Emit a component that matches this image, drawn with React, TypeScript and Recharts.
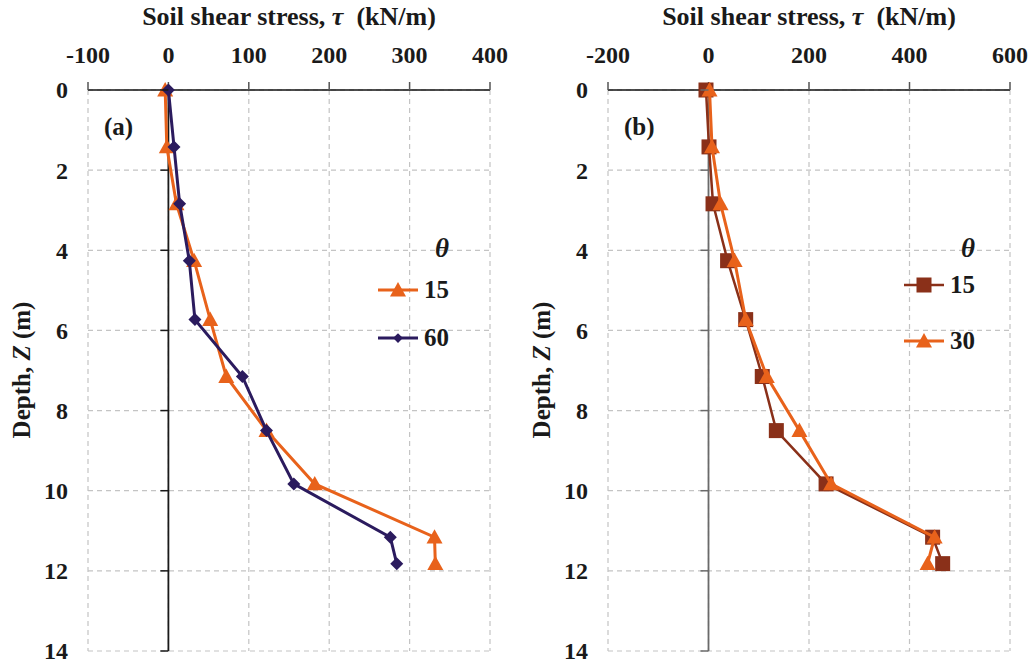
import React from 'react';
import {
  ScatterChart,
  Scatter,
  XAxis,
  YAxis,
  CartesianGrid,
  ReferenceLine,
} from 'recharts';

const FONT = '"Liberation Serif", "Times New Roman", serif';

// depths (m) of the points, same for both panels
const depths = [0, 1.42, 2.84, 4.26, 5.73, 7.15, 8.5, 9.83, 11.16, 11.82];

// panel (a)
const tauA15 = [-4, -2, 10, 32, 52, 72, 122, 182, 331, 332];
const tauA60 = [0, 7, 14, 26, 33, 92, 122, 156, 276, 284];
const xTicksA = [-100, 0, 100, 200, 300, 400];

// panel (b)
const tauB15 = [-5, 1, 9, 38, 74, 107, 135, 234, 446, 466];
const tauB30 = [2, 7, 24, 52, 74, 116, 181, 244, 450, 436];
const xTicksB = [-200, 0, 200, 400, 600];

const yTicks = [0, 2, 4, 6, 8, 10, 12, 14];

const ORANGE = '#E8621B';
const NAVY = '#2B1B5E';
const BROWN = '#8A3019';

const toPoints = (vals: number[]) => vals.map((tau, i) => ({ tau, depth: depths[i] }));

// plot box inside each chart
const M = { top: 90, left: 88, bottom: 15 };
const PLOT_W = 402;

type MarkerKind = 'triangle' | 'diamond' | 'square';

const Marker = ({ cx, cy, kind, color, k = 1 }: { cx: number; cy: number; kind: MarkerKind; color: string; k?: number }) => {
  if (cx == null || cy == null) return null;
  if (kind === 'triangle') {
    const h = 8 * k;
    return <polygon points={`${cx},${cy - h} ${cx - h},${cy + h * 0.8} ${cx + h},${cy + h * 0.8}`} fill={color} />;
  }
  if (kind === 'diamond') {
    const d = 6.5 * k;
    return <polygon points={`${cx},${cy - d} ${cx + d},${cy} ${cx},${cy + d} ${cx - d},${cy}`} fill={color} />;
  }
  const s = 7.5 * k;
  return <rect x={cx - s} y={cy - s} width={2 * s} height={2 * s} fill={color} />;
};

interface Series {
  name: string;
  values: number[];
  color: string;
  kind: MarkerKind;
  width: number;
}

interface PanelProps {
  left: number;
  width: number;
  xTicks: number[];
  series: Series[];
  axisColor: string;
  tag: string;
  legendX: number;
  legendYs: number[];
}

const Panel: React.FC<PanelProps> = ({ left, width, xTicks, series, axisColor, tag, legendX, legendYs }) => {
  const xMin = xTicks[0];
  const xMax = xTicks[xTicks.length - 1];
  const zeroPx = M.left + ((0 - xMin) / (xMax - xMin)) * PLOT_W;

  const XTick = (props: any) => (
    <text x={props.x} y={63} textAnchor="middle" fontFamily={FONT} fontWeight="bold" fontSize={24} fill="#1a1a1a">
      {props.payload.value}
    </text>
  );

  const YTick = (props: any) => (
    <g>
      <text x={M.left - 20} y={props.y} dy="0.35em" textAnchor="end" fontFamily={FONT} fontWeight="bold" fontSize={24} fill="#1a1a1a">
        {props.payload.value}
      </text>
      <line x1={zeroPx - 8} x2={zeroPx} y1={props.y} y2={props.y} stroke={axisColor} strokeWidth={1.5} />
    </g>
  );

  return (
    <div style={{ position: 'absolute', left, top: 0, width, height: 666 }}>
      <ScatterChart
        width={width}
        height={666}
        margin={{ top: M.top - 1, left: M.left - 1, right: width - M.left - PLOT_W, bottom: M.bottom }}
      >
        <CartesianGrid strokeDasharray="5 4" stroke="#c4c4c4" strokeWidth={1.2} />
        <XAxis
          type="number"
          dataKey="tau"
          orientation="top"
          domain={[xMin, xMax]}
          ticks={xTicks}
          height={1}
          tickSize={8}
          axisLine={{ stroke: '#111', strokeWidth: 1.5 }}
          tickLine={{ stroke: '#555', strokeWidth: 1.5 }}
          tick={<XTick />}
          allowDataOverflow
        />
        <YAxis
          type="number"
          dataKey="depth"
          domain={[0, 14]}
          ticks={yTicks}
          reversed
          width={1}
          axisLine={false}
          tickLine={false}
          tick={<YTick />}
        />
        <ReferenceLine x={0} stroke={axisColor} strokeWidth={1.8} />
        {series.map((s) => (
          <Scatter
            key={s.name}
            name={s.name}
            data={toPoints(s.values)}
            fill={s.color}
            line={{ stroke: s.color, strokeWidth: s.width }}
            shape={(p: any) => <Marker cx={p.cx} cy={p.cy} kind={s.kind} color={s.color} />}
            isAnimationActive={false}
          />
        ))}
      </ScatterChart>

      {/* title */}
      <div
        style={{
          position: 'absolute',
          left: M.left - 20,
          width: PLOT_W + 40,
          top: 3,
          textAlign: 'center',
          fontFamily: FONT,
          fontWeight: 'bold',
          fontSize: 26,
          lineHeight: '28px',
          color: '#1a1a1a',
          whiteSpace: 'pre',
        }}
      >
        {'Soil shear stress, '}
        <i>τ</i>
        {'  (kN/m)'}
      </div>

      {/* y axis title */}
      <div
        style={{
          position: 'absolute',
          left: 22,
          top: 370,
          transform: 'translate(-50%, -50%) rotate(-90deg)',
          fontFamily: FONT,
          fontWeight: 'bold',
          fontSize: 25,
          color: '#1a1a1a',
          whiteSpace: 'nowrap',
        }}
      >
        Depth, <i>Z</i> (m)
      </div>

      {/* panel tag */}
      <div
        style={{
          position: 'absolute',
          left: M.left + 16,
          top: 113,
          fontFamily: FONT,
          fontWeight: 'bold',
          fontSize: 25,
          lineHeight: '28px',
          color: '#1a1a1a',
        }}
      >
        {tag}
      </div>

      {/* legend */}
      <div
        style={{
          position: 'absolute',
          left: legendX + 38,
          top: 233,
          fontFamily: FONT,
          fontWeight: 'bold',
          fontStyle: 'italic',
          fontSize: 27,
          lineHeight: '30px',
          color: '#1a1a1a',
        }}
      >
        θ
      </div>
      {series.map((s, i) => (
        <div key={s.name} style={{ position: 'absolute', left: legendX - 20, top: legendYs[i] - 15, height: 30, display: 'flex', alignItems: 'center' }}>
          <svg width={42} height={30}>
            <line x1={1} x2={41} y1={15} y2={15} stroke={s.color} strokeWidth={s.width} />
            <Marker cx={21} cy={15} kind={s.kind} color={s.color} k={s.kind === 'diamond' ? 0.75 : 1} />
          </svg>
          <span style={{ marginLeft: 5, fontFamily: FONT, fontWeight: 'bold', fontSize: 25, color: '#1a1a1a', lineHeight: '30px' }}>
            {s.name}
          </span>
        </div>
      ))}
    </div>
  );
};

export default function App() {
  return (
    <div style={{ position: 'absolute', left: 0, top: 0, width: 1033, height: 666, background: '#fff' }}>
      <Panel
        left={0}
        width={520}
        xTicks={xTicksA}
        axisColor="#1a1a1a"
        tag="(a)"
        legendX={397}
        legendYs={[290, 338]}
        series={[
          { name: '15', values: tauA15, color: ORANGE, kind: 'triangle', width: 3 },
          { name: '60', values: tauA60, color: NAVY, kind: 'diamond', width: 3 },
        ]}
      />
      <Panel
        left={520}
        width={513}
        xTicks={xTicksB}
        axisColor="#6a6a6a"
        tag="(b)"
        legendX={403}
        legendYs={[285, 341]}
        series={[
          { name: '15', values: tauB15, color: BROWN, kind: 'square', width: 2.5 },
          { name: '30', values: tauB30, color: ORANGE, kind: 'triangle', width: 3 },
        ]}
      />
    </div>
  );
}
